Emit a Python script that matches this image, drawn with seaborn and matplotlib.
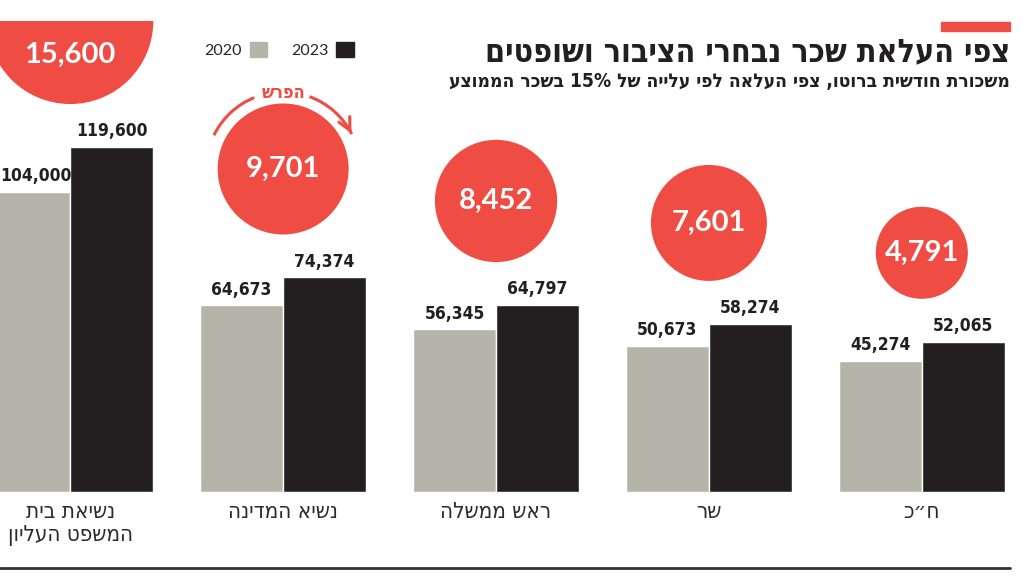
import re
import numpy as np
import pandas as pd
import matplotlib.pyplot as plt
import seaborn as sns
from matplotlib.patches import Patch, Arc, Rectangle
from matplotlib.lines import Line2D

# Data (monthly gross salary, NIS)
categories = ['נשיאת בית\nהמשפט העליון', 'נשיא המדינה', 'ראש ממשלה', 'שר', 'ח״כ']
salary_2020 = [104000, 64673, 56345, 50673, 45274]
salary_2023 = [119600, 74374, 64797, 58274, 52065]
gap_labels = [15600, 9701, 8452, 7601, 4791]  # as printed in the circles
years = ['2020', '2023']

title = 'צפי העלאת שכר נבחרי הציבור ושופטים'
subtitle = 'משכורת חודשית ברוטו, צפי העלאה לפי עלייה של 15% בשכר הממוצע'
gap_word = 'הפרש'

GRAY = '#b4b4a8'
BLACK = '#231f20'
RED = '#ef4c43'

HEB = ['DejaVu Sans']
NUM = ['DejaVu Sans']
ROUND = ['Lato', 'DejaVu Sans']


def rtl(s):
    """matplotlib has no bidi: flip Hebrew lines, keep number runs LTR."""
    lines = []
    for line in s.split('\n'):
        rev = line[::-1]
        rev = re.sub(r'[0-9%]+', lambda m: m.group(0)[::-1], rev)
        lines.append(rev)
    return '\n'.join(lines)


sns.set_theme(style='white')
plt.rcParams['font.family'] = HEB

labels = [rtl(c) for c in categories]
df = pd.DataFrame({
    'category': labels * 2,
    'year': [years[0]] * len(labels) + [years[1]] * len(labels),
    'salary': salary_2020 + salary_2023,
})

fig = plt.figure(figsize=(10.24, 5.76), dpi=100)
ax = fig.add_axes([0, 84 / 576, 1, 471 / 576])

sns.barplot(data=df, x='category', y='salary', hue='year', hue_order=years,
            palette={years[0]: GRAY, years[1]: BLACK}, saturation=1,
            width=0.78, legend=False, ax=ax)

y_top = 163300
ax.set_xlim(-0.33, 4.48)
ax.set_ylim(0, y_top)
upp = y_top / 471  # data units per pixel

# value labels above bars
for cont, vals in zip(ax.containers, [salary_2020, salary_2023]):
    texts = ax.bar_label(cont, labels=[f'{v:,}' for v in vals], padding=5,
                         fontsize=12.5, fontweight='bold', family=NUM,
                         fontstretch='condensed', color=BLACK)
    # the first grey bar runs off the left edge: keep its label inside
    for t in texts:
        if t.xy[0] - 0.15 < ax.get_xlim()[0]:
            t.xy = (ax.get_xlim()[0], t.xy[1])
            t.set_horizontalalignment('left')

# red "difference" circles, area ~ difference
r_px = 0.665 * np.sqrt(gap_labels)
xs = np.arange(len(categories))
cy = np.array(salary_2023) + (43 + r_px) * upp
ax.scatter(xs, cy, s=(2 * r_px * 0.72) ** 2, color=RED, linewidths=0, zorder=3)
for i, (g, y, r) in enumerate(zip(gap_labels, cy, r_px)):
    ty = y - 34 * upp if y + r * upp > y_top else y
    ax.text(i, ty, f'{g:,}', ha='center', va='center', color='white',
            fontsize=21, fontweight='bold', family=ROUND, zorder=4)

ax.set_xlabel('')
ax.set_ylabel('')
ax.set_yticks([])
ax.tick_params(axis='x', length=0, pad=7, labelsize=16, colors='#2b2b2b')
for t in ax.get_xticklabels():
    t.set_family(HEB)
    t.set_fontstretch('condensed')
sns.despine(ax=ax, left=True, bottom=True)

# legend
handles = [Patch(color=GRAY, label=years[0]), Patch(color=BLACK, label=years[1])]
ax.legend(handles=handles, ncol=2, markerfirst=False, frameon=False,
          loc='center', bbox_to_anchor=(279 / 1024, 1 - 50 / 576),
          bbox_transform=fig.transFigure, handlelength=1.1, handleheight=1.1,
          handletextpad=0.5, columnspacing=1.5,
          prop=dict(family=ROUND, size=11.5))

# overlay in pixel units for the curved arrow
ov = fig.add_axes([0, 0, 1, 1], zorder=5)
ov.set_xlim(0, 1024)
ov.set_ylim(0, 576)
ov.axis('off')
ov.patch.set_alpha(0)
cx, cyd = ax.transData.transform((xs[1], cy[1]))
R = 77
ov.add_patch(Arc((cx, cyd), 2 * R, 2 * R, theta1=112, theta2=154, color=RED, lw=2.2))
ov.add_patch(Arc((cx, cyd), 2 * R, 2 * R, theta1=27, theta2=70, color=RED, lw=2.2))
th = np.deg2rad(27)
end = np.array([cx + R * np.cos(th), cyd + R * np.sin(th)])
tangent = np.array([np.sin(th), -np.cos(th)])
ov.annotate('', xy=end + 2 * tangent, xytext=end - 8 * tangent,
            arrowprops=dict(arrowstyle='->', color=RED, lw=2.2, mutation_scale=22))
ov.text(cx, cyd + 76, rtl(gap_word), ha='center', va='center', color=RED,
        fontsize=13, fontweight='bold', family=HEB, fontstretch='condensed')

# titles and decorations
fig.text(1010 / 1024, 1 - 53 / 576, rtl(title), ha='right', va='center',
         fontsize=23, fontweight='bold', family=HEB, fontstretch='condensed',
         color=BLACK)
fig.text(1010 / 1024, 1 - 82 / 576, rtl(subtitle), ha='right', va='center',
         fontsize=13.8, fontweight='bold', family=HEB, fontstretch='condensed',
         color=BLACK)
fig.patches.append(Rectangle((941 / 1024, 1 - 31 / 576), 69 / 1024, 9 / 576,
                             transform=fig.transFigure, color=RED))
fig.lines.append(Line2D([0, 1010 / 1024], [1 - 568 / 576] * 2,
                        transform=fig.transFigure, color='#333333', lw=2))

fig.savefig('out.png', dpi=100, facecolor='white')
